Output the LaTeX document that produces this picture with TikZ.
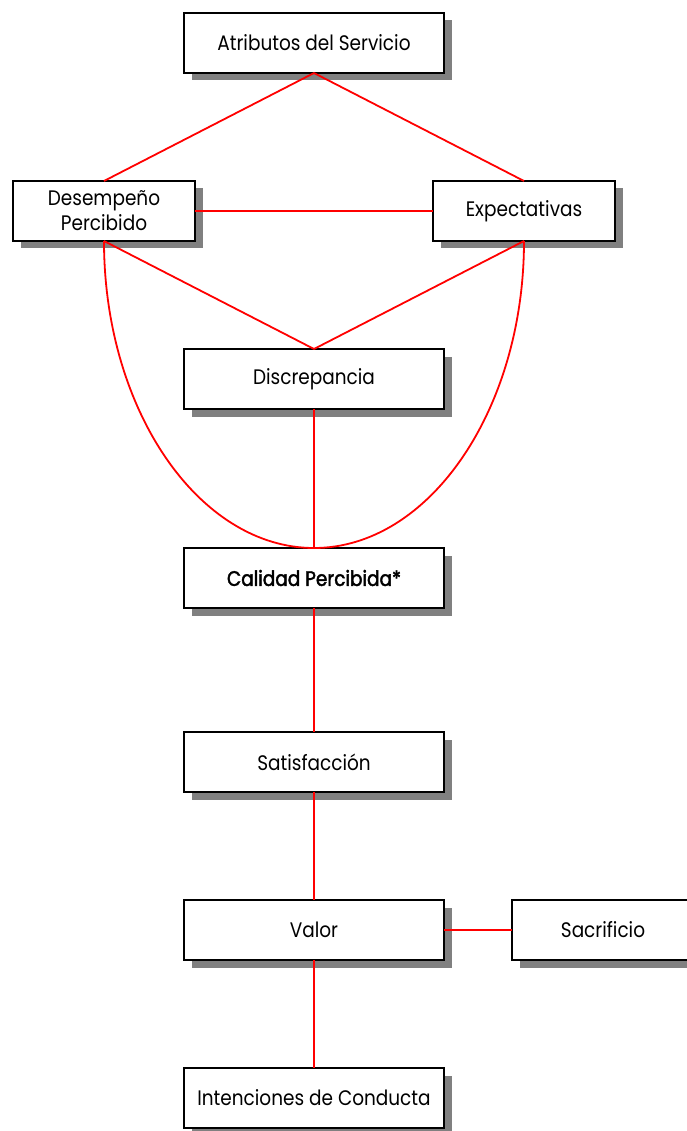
\documentclass[tikz,border=0pt]{standalone}
\usepackage{fontspec}
\setmainfont{Poppins}[FakeStretch=0.88]
\usetikzlibrary{positioning,shadows}

\begin{document}
\begin{tikzpicture}[x=1pt, y=1pt, font=\fontsize{21}{25}\selectfont]
        \tikzstyle{caja}=[draw=black, line width=2pt, fill=white, minimum width=260pt, minimum height=60pt, inner sep=2pt, outer sep=0pt, align=center,
                drop shadow={shadow xshift=7.5pt, shadow yshift=-7.5pt, fill=gray, opacity=1}]
        \tikzstyle{chica}=[caja, minimum width=182pt]
        \tikzstyle{lazo}=[draw=red, line width=1.8pt]
        \useasboundingbox (0,0) rectangle (687,-1131);
        \node[caja]    (atrib) at (314,-43)            {Atributos del Servicio};
        \node[chica]   (desem) [below left=108pt and -11pt of atrib]  {Desempeño\\Percibido};
        \node[chica]   (expec) [below right=108pt and -11pt of atrib] {Expectativas};
        \node[caja]    (discr) [below=276pt of atrib]  {Discrepancia};
        \node[caja]    (calid) [below=139pt of discr]  {\addfontfeature{FakeBold=2}Calidad Percibida*};
        \node[caja]    (satis) [below=124pt of calid]  {Satisfacción};
        \node[caja]    (valor) [below=108pt of satis]  {Valor};
        \node[chica]   (sacri) [right=68pt of valor]   {Sacrificio};
        \node[caja]    (inten) [below=108pt of valor]  {Intenciones de Conducta};
        \draw[lazo] (atrib.south) -- (desem.north);
        \draw[lazo] (atrib.south) -- (expec.north);
        \draw[lazo] (desem.east)  -- (expec.west);
        \draw[lazo] (desem.south) -- (discr.north);
        \draw[lazo] (expec.south) -- (discr.north);
        \draw[lazo] (discr.south) -- (calid.north);
        \draw[lazo] (calid.south) -- (satis.north);
        \draw[lazo] (satis.south) -- (valor.north);
        \draw[lazo] (valor.south) -- (inten.north);
        \draw[lazo] (valor.east)  -- (sacri.west);
        % arcos hacia la calidad percibida
        \draw[lazo] (desem.south) .. controls +(0,-169) and +(-115,0) .. (calid.north);
        \draw[lazo] (expec.south) .. controls +(0,-169) and +(115,0) .. (calid.north);
    \end{tikzpicture}
\end{document}
